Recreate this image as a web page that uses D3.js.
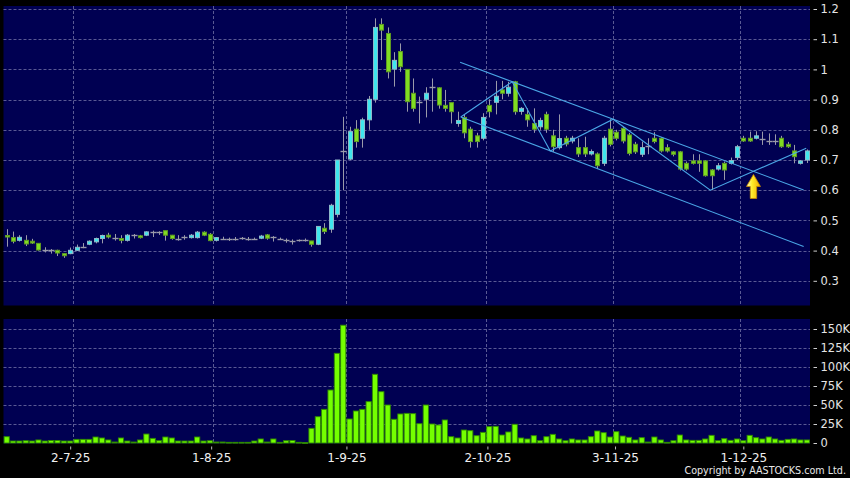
<!DOCTYPE html>
<html>
<head>
<meta charset="utf-8">
<script src="https://cdn.jsdelivr.net/npm/d3@7"></script>
<style>
  body { margin: 0; background: #000; }
  svg { display: block; }
</style>
</head>
<body>
<div id="chart"></div>
<script>
// daily OHLC, one entry per trading day (17-6-25 .. 16-12-25)
var openP = [
  0.450, 0.443, 0.434, 0.434, 0.431, 0.424, 0.402, 0.402, 0.401, 0.390,
  0.390, 0.401, 0.413, 0.421, 0.429, 0.440, 0.451, 0.443, 0.440, 0.434,
  0.452, 0.449, 0.451, 0.462, 0.462, 0.466, 0.451, 0.440, 0.445, 0.443,
  0.443, 0.461, 0.454, 0.434, 0.440, 0.437, 0.437, 0.441, 0.440, 0.440,
  0.441, 0.452, 0.445, 0.440, 0.435, 0.433, 0.435, 0.434, 0.432, 0.421,
  0.474, 0.471, 0.520, 0.730, 0.703, 0.802, 0.772, 0.833, 0.901, 1.149,
  1.119, 1.001, 1.059, 1.000, 0.921, 0.891, 0.901, 0.941, 0.939, 0.881,
  0.890, 0.821, 0.841, 0.802, 0.780, 0.772, 0.881, 0.891, 0.932, 0.921,
  0.959, 0.861, 0.851, 0.821, 0.810, 0.851, 0.780, 0.741, 0.772, 0.763,
  0.741, 0.741, 0.720, 0.720, 0.689, 0.802, 0.792, 0.805, 0.783, 0.752,
  0.719, 0.747, 0.772, 0.772, 0.741, 0.727, 0.727, 0.689, 0.697, 0.697,
  0.697, 0.667, 0.670, 0.689, 0.689, 0.708, 0.772, 0.772, 0.772, 0.769,
  0.763, 0.763, 0.772, 0.752, 0.730, 0.689, 0.700
];
var highP = [
  0.471, 0.463, 0.451, 0.451, 0.439, 0.425, 0.411, 0.405, 0.403, 0.392,
  0.410, 0.420, 0.425, 0.434, 0.443, 0.453, 0.459, 0.455, 0.451, 0.455,
  0.455, 0.452, 0.464, 0.466, 0.464, 0.466, 0.452, 0.451, 0.451, 0.455,
  0.465, 0.464, 0.458, 0.445, 0.446, 0.443, 0.445, 0.445, 0.445, 0.443,
  0.452, 0.455, 0.448, 0.443, 0.440, 0.437, 0.437, 0.440, 0.432, 0.480,
  0.491, 0.555, 0.700, 0.843, 0.810, 0.832, 0.840, 0.912, 1.169, 1.169,
  1.139, 1.057, 1.086, 1.000, 0.970, 0.910, 0.941, 0.970, 0.941, 0.932,
  0.890, 0.860, 0.850, 0.810, 0.790, 0.855, 0.901, 0.962, 0.962, 0.959,
  0.962, 0.875, 0.871, 0.871, 0.840, 0.860, 0.800, 0.851, 0.780, 0.780,
  0.772, 0.777, 0.735, 0.725, 0.780, 0.835, 0.800, 0.810, 0.790, 0.760,
  0.761, 0.772, 0.792, 0.775, 0.752, 0.730, 0.730, 0.695, 0.719, 0.719,
  0.700, 0.670, 0.690, 0.695, 0.708, 0.750, 0.780, 0.794, 0.795, 0.794,
  0.788, 0.785, 0.780, 0.760, 0.750, 0.700, 0.735
];
var lowP = [
  0.413, 0.424, 0.430, 0.415, 0.422, 0.400, 0.394, 0.390, 0.382, 0.376,
  0.388, 0.400, 0.408, 0.418, 0.424, 0.424, 0.440, 0.433, 0.424, 0.430,
  0.440, 0.440, 0.448, 0.445, 0.452, 0.433, 0.436, 0.433, 0.436, 0.440,
  0.440, 0.448, 0.431, 0.430, 0.436, 0.432, 0.433, 0.436, 0.433, 0.436,
  0.438, 0.436, 0.430, 0.436, 0.426, 0.420, 0.430, 0.430, 0.413, 0.418,
  0.455, 0.459, 0.510, 0.600, 0.700, 0.741, 0.741, 0.800, 0.890, 1.031,
  0.970, 0.943, 0.992, 0.860, 0.860, 0.821, 0.841, 0.860, 0.870, 0.860,
  0.821, 0.810, 0.772, 0.741, 0.741, 0.765, 0.841, 0.851, 0.901, 0.910,
  0.850, 0.850, 0.810, 0.790, 0.800, 0.790, 0.727, 0.735, 0.745, 0.755,
  0.710, 0.710, 0.715, 0.670, 0.680, 0.745, 0.765, 0.755, 0.715, 0.720,
  0.710, 0.719, 0.755, 0.725, 0.725, 0.712, 0.665, 0.665, 0.685, 0.661,
  0.645, 0.600, 0.665, 0.634, 0.685, 0.700, 0.760, 0.760, 0.768, 0.750,
  0.750, 0.750, 0.740, 0.740, 0.689, 0.685, 0.690
];
var closeP = [
  0.445, 0.431, 0.444, 0.422, 0.425, 0.402, 0.402, 0.402, 0.392, 0.383,
  0.401, 0.411, 0.413, 0.431, 0.440, 0.450, 0.445, 0.443, 0.434, 0.451,
  0.452, 0.443, 0.462, 0.462, 0.462, 0.451, 0.440, 0.440, 0.445, 0.451,
  0.461, 0.451, 0.433, 0.443, 0.440, 0.437, 0.437, 0.441, 0.440, 0.440,
  0.448, 0.441, 0.445, 0.440, 0.435, 0.433, 0.435, 0.434, 0.421, 0.480,
  0.463, 0.550, 0.700, 0.730, 0.794, 0.761, 0.833, 0.901, 1.139, 1.130,
  0.992, 1.030, 1.009, 0.893, 0.871, 0.891, 0.921, 0.941, 0.882, 0.871,
  0.860, 0.831, 0.790, 0.761, 0.761, 0.841, 0.860, 0.911, 0.921, 0.941,
  0.860, 0.871, 0.833, 0.802, 0.831, 0.802, 0.744, 0.771, 0.753, 0.772,
  0.720, 0.720, 0.728, 0.681, 0.772, 0.752, 0.772, 0.763, 0.722, 0.727,
  0.741, 0.747, 0.761, 0.730, 0.730, 0.719, 0.670, 0.670, 0.689, 0.689,
  0.648, 0.648, 0.681, 0.667, 0.698, 0.744, 0.763, 0.763, 0.780, 0.769,
  0.763, 0.763, 0.744, 0.744, 0.711, 0.697, 0.730
];
var volume = [
  8300, 2600, 2600, 3000, 2600, 4000, 2600, 3300, 3300, 2600,
  2600, 4800, 4800, 4800, 7900, 6600, 4000, 1300, 6600, 2600,
  1300, 4000, 11800, 6100, 3000, 7900, 6600, 2600, 2600, 2600,
  7900, 2600, 3000, 1300, 1300, 900, 900, 900, 900, 2600,
  5300, 1300, 5300, 900, 3000, 3300, 900, 500, 19300, 34600,
  44300, 69700, 118000, 155000, 31600, 42100, 44300, 54400, 90400, 67500,
  50000, 31200, 38200, 39000, 38600, 25400, 50000, 25000, 23700, 30300,
  8300, 6600, 17100, 16200, 9600, 14000, 21500, 21900, 10500, 14500,
  24600, 6600, 5300, 9600, 3000, 8300, 11400, 5300, 3000, 5300,
  4000, 4000, 8300, 15800, 13600, 7900, 14900, 9200, 7500, 4000,
  7000, 1300, 7900, 4000, 900, 3000, 10500, 4000, 3500, 3500,
  5300, 10100, 3000, 5700, 3500, 5300, 3000, 10100, 7000, 5300,
  7900, 5300, 3500, 4800, 5300, 4000, 4000
];

// axis ticks
var priceTicks = [0.3, 0.4, 0.5, 0.6, 0.7, 0.8, 0.9, 1, 1.1, 1.2];
var volTicks = [0, 25000, 50000, 75000, 100000, 125000, 150000];
var dateLabels = ["2-7-25", "1-8-25", "1-9-25", "2-10-25", "3-11-25", "1-12-25"];
var dateIdx = [10, 32.2, 53.5, 75.7, 95.8, 116];
var gridIdx = [10.5, 32.5, 53.5, 75.5, 95.5, 115.5];

// drawn annotations: [day index, price]
var upperChannel = [[71.4, 1.0235], [125.5, 0.6007]];
var lowerChannel = [[71.5, 0.8424], [125.5, 0.4136]];
var zigzag = [[71.5, 0.8424], [79.6, 0.959], [85.6, 0.730], [95.5, 0.835], [110.8, 0.600], [125.9, 0.739]];
var arrowAt = [117.6, 0.652];

var svgWidth = 850, svgHeight = 478;
var bg = "#000052", gridColor = "#5a5a94";

var svg = d3.select("#chart").append("svg")
    .attr("width", svgWidth)
    .attr("height", svgHeight);

svg.append("rect")
    .attr("width", svgWidth)
    .attr("height", svgHeight)
    .attr("fill", "#000");

var xScale = d3.scaleLinear()
    .domain([-0.5, openP.length - 0.5])
    .range([3.5, 810]);
var yScale = d3.scaleLinear()
    .domain([0.3, 1.2])
    .range([280.8, 9]);
var vScale = d3.scaleLinear()
    .domain([0, 150000])
    .range([443, 329]);

// panels
svg.append("rect").attr("x", 3.5).attr("y", 6).attr("width", 806.5).attr("height", 299.5).attr("fill", bg);
svg.append("rect").attr("x", 3.5).attr("y", 319).attr("width", 806.5).attr("height", 124.5).attr("fill", bg);

var grid = svg.append("g")
    .attr("stroke", gridColor)
    .attr("stroke-width", 1)
    .attr("stroke-dasharray", "3,2");

grid.selectAll(".hp").data(priceTicks).enter().append("line")
    .attr("x1", 3.5).attr("x2", 810)
    .attr("y1", d => Math.round(yScale(d)) + 0.5)
    .attr("y2", d => Math.round(yScale(d)) + 0.5);

grid.selectAll(".hv").data(volTicks.slice(1)).enter().append("line")
    .attr("x1", 3.5).attr("x2", 810)
    .attr("y1", d => Math.round(vScale(d)) + 0.5)
    .attr("y2", d => Math.round(vScale(d)) + 0.5);

grid.selectAll(".vp").data(gridIdx).enter().append("line")
    .attr("x1", d => Math.round(xScale(d)) + 0.5)
    .attr("x2", d => Math.round(xScale(d)) + 0.5)
    .attr("y1", 6).attr("y2", 305.5);

grid.selectAll(".vv").data(gridIdx).enter().append("line")
    .attr("x1", d => Math.round(xScale(d)) + 0.5)
    .attr("x2", d => Math.round(xScale(d)) + 0.5)
    .attr("y1", 319).attr("y2", 443);

// volume bars
svg.append("g").selectAll("rect")
    .data(volume)
    .enter()
    .append("rect")
    .attr("x", (d, i) => xScale(i) - 2.6)
    .attr("y", d => vScale(d))
    .attr("width", 5.2)
    .attr("height", d => Math.max(0.8, vScale(0) - vScale(d)))
    .attr("fill", "#74ff00")
    .attr("stroke", "#2f8a00")
    .attr("stroke-width", 0.9);

// candles
var candles = svg.append("g");
openP.forEach(function(o, i) {
    var c = closeP[i];
    var cx = Math.round(xScale(i)) + 0.5;
    candles.append("line")
        .attr("x1", cx).attr("x2", cx)
        .attr("y1", yScale(highP[i]))
        .attr("y2", yScale(lowP[i]))
        .attr("stroke", "#9a9aaa")
        .attr("stroke-width", 1);
    if (Math.abs(c - o) < 0.0005) {
        candles.append("line")
            .attr("x1", cx - 3).attr("x2", cx + 3)
            .attr("y1", Math.round(yScale(o)) + 0.5)
            .attr("y2", Math.round(yScale(o)) + 0.5)
            .attr("stroke", "#9a9aaa")
            .attr("stroke-width", 1.4);
    } else {
        var up = c > o;
        var top = yScale(Math.max(o, c));
        var h = Math.max(1.5, yScale(Math.min(o, c)) - top);
        candles.append("rect")
            .attr("x", cx - 2)
            .attr("y", top)
            .attr("width", 4)
            .attr("height", h)
            .attr("fill", up ? "#3fe6ee" : "#80dd22")
            .attr("stroke", up ? "#8fb8c8" : "#5e9a22")
            .attr("stroke-width", 1);
    }
});

// trend lines
var line = d3.line()
    .x(d => xScale(d[0]))
    .y(d => yScale(d[1]));

svg.append("g").selectAll("path")
    .data([upperChannel, lowerChannel, zigzag])
    .enter()
    .append("path")
    .attr("d", line)
    .attr("fill", "none")
    .attr("stroke", "#4aa6e6")
    .attr("stroke-width", 1.1);

// yellow arrow
var grad = svg.append("defs").append("linearGradient")
    .attr("id", "arrowGrad")
    .attr("x1", "0%").attr("x2", "100%").attr("y1", "0%").attr("y2", "0%");
grad.append("stop").attr("offset", "0%").attr("stop-color", "#fffbc0");
grad.append("stop").attr("offset", "40%").attr("stop-color", "#ffec2a");
grad.append("stop").attr("offset", "100%").attr("stop-color", "#f2a800");

svg.append("path")
    .attr("transform", `translate(${xScale(arrowAt[0])}, ${yScale(arrowAt[1])})`)
    .attr("d", "M0,0 L7,12 L3.2,12 L3.2,24 L-3.2,24 L-3.2,12 L-7,12 Z")
    .attr("fill", "url(#arrowGrad)")
    .attr("stroke", "#c88a00")
    .attr("stroke-width", 0.8);

// right axes
var priceAxis = svg.append("g")
    .attr("transform", "translate(813.5, 0)")
    .call(d3.axisRight(yScale).tickValues(priceTicks).tickSize(3.5).tickPadding(3.5).tickFormat(d3.format("~g")));

var volAxis = svg.append("g")
    .attr("transform", "translate(813.5, 0)")
    .call(d3.axisRight(vScale).tickValues(volTicks).tickSize(3.5).tickPadding(3.5)
        .tickFormat(d => d === 0 ? "0" : (d / 1000) + "K"));

[priceAxis, volAxis].forEach(function(ax) {
    ax.select(".domain").remove();
    ax.selectAll("line").attr("stroke", "#cfcfcf");
    ax.selectAll("text")
        .attr("fill", "#e4e4e4")
        .style("font-family", "DejaVu Sans, sans-serif")
        .style("font-size", "11.5px");
});

// date axis
var dateAxis = svg.append("g")
    .attr("transform", "translate(0, 446.5)")
    .call(d3.axisBottom(xScale).tickValues(dateIdx).tickSize(3).tickPadding(4)
        .tickFormat((d, i) => dateLabels[i]));
dateAxis.select(".domain").remove();
dateAxis.selectAll("line").attr("stroke", "#bdbdbd");
dateAxis.selectAll("text")
    .attr("fill", "#f0f0f0")
    .style("font-family", "DejaVu Sans, sans-serif")
    .style("font-size", "12px");

svg.append("text")
    .attr("x", 846)
    .attr("y", 473.5)
    .attr("text-anchor", "end")
    .attr("fill", "#e8e8e8")
    .style("font-family", "DejaVu Sans, sans-serif")
    .style("font-size", "9.6px")
    .text("Copyright by AASTOCKS.com Ltd.");
</script>
</body>
</html>
